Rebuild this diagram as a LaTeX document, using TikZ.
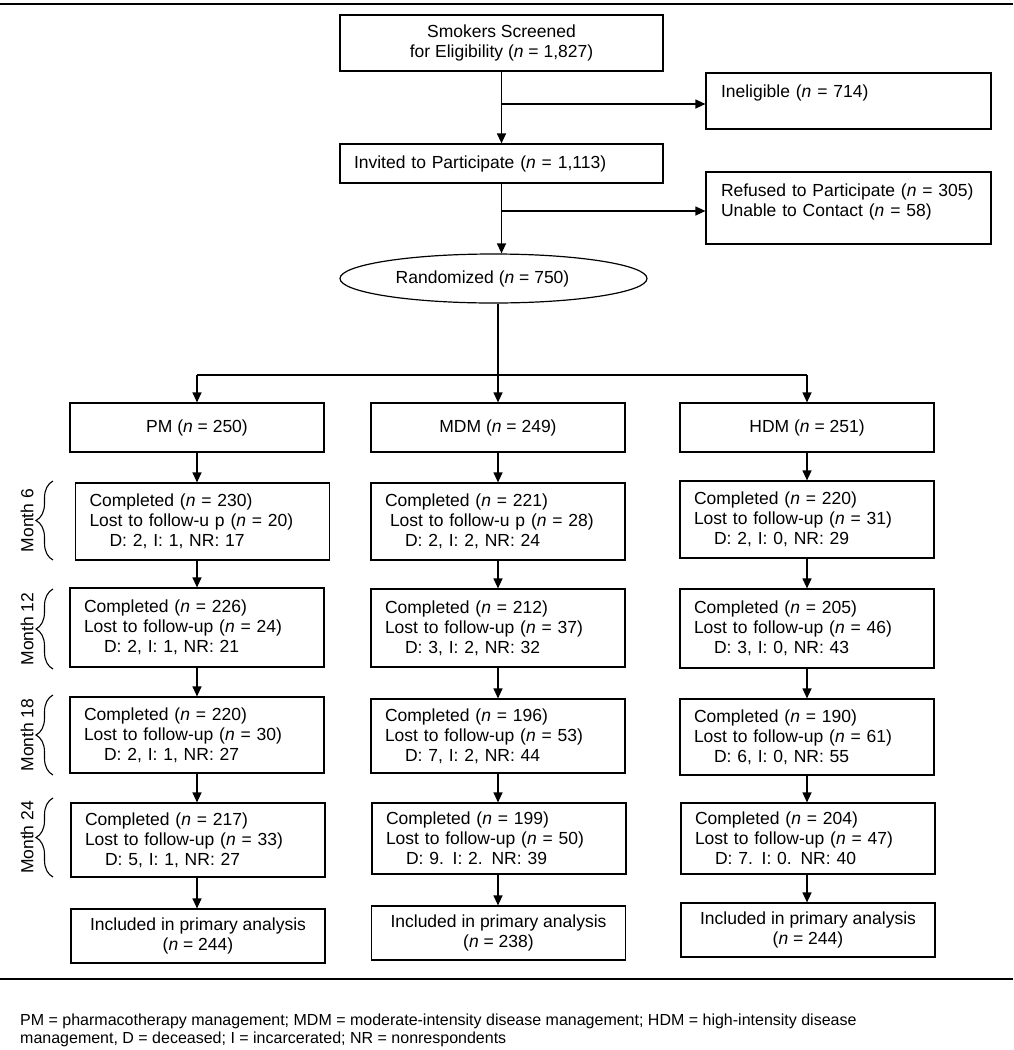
\documentclass[tikz,border=0pt]{standalone}
\usepackage{fontspec}
\setmainfont{Liberation Sans}
\usetikzlibrary{positioning,arrows.meta,shapes.geometric,decorations.pathreplacing}

\begin{document}
\begin{tikzpicture}[x=1pt,y=-1pt,
    font=\fontsize{17.5}{20}\selectfont,
    box/.style={draw, line width=1.2pt, inner sep=0pt},
    stage/.style={box, text width=226pt, inner xsep=14pt, align=left, minimum height=#1},
    arm/.style={box, minimum width=254pt, minimum height=#1, align=center},
    arr/.style={-{Triangle[length=10pt,width=9pt]}, line width=1.2pt},
    curly/.style={decorate, decoration={brace, amplitude=17pt}, line width=1.1pt}]
  \useasboundingbox (0,0) rectangle (1013,1050);
  \fill[white] (0,0) rectangle (1013,1050);

  \draw[line width=2.4pt] (0,4) -- (1013,4);

  % enrolment
  \node[box, minimum width=323pt, minimum height=56pt, align=center] (screen) at (501.5,43)
    {Smokers Screened\\for Eligibility (\textit{n} = 1,827)};
  \node[box, text width=255pt, inner xsep=15pt, align=left, minimum height=56pt] (inel) at (848.5,101)
    {Ineligible (\textit{n} = 714)\\\mbox{}};
  \node[box, text width=295pt, inner xsep=14pt, align=left, minimum height=39pt] (invite) at (501.5,163.5)
    {Invited to Participate (\textit{n} = 1,113)};
  \node[box, text width=255pt, inner xsep=15pt, align=left, minimum height=72pt] (refuse) at (848.5,208)
    {Refused to Participate (\textit{n} = 305)\\Unable to Contact (\textit{n} = 58)\\[-5pt]\mbox{}};
  \node[draw, ellipse, line width=1.2pt, inner sep=0pt, minimum width=307pt, minimum height=49pt] (rand) at (493.5,278.5)
    {Randomized (\textit{n} = 750)\hspace*{22pt}};

  \coordinate (inelbranch) at (500,104);
  \coordinate (refbranch) at (500,211);
  \draw[arr] (screen) -- (invite);
  \draw[arr] (inelbranch -| screen.south) -- (inelbranch -| inel.west);
  \draw[arr] (invite.south) -- (invite.south |- rand.north);
  \draw[arr] (refbranch -| invite.south) -- (refbranch -| refuse.west);

  % arms
  \node[arm=49pt] (pm) at (197,427.5) {PM (\textit{n} = 250)};
  \node[arm=49pt] (mdm) at (498,427.5) {MDM (\textit{n} = 249)};
  \node[arm=49pt] (hdm) at (807,427.5) {HDM (\textit{n} = 251)};

  \coordinate (fork) at (498,375);
  \draw[arr] (rand.south -| mdm.north) -- (mdm.north);
  \draw[line width=1.2pt] (pm.north |- fork) -- (hdm.north |- fork);
  \foreach \c in {pm,hdm}
    \draw[arr] (\c.north |- fork) -- (\c.north);

  % PM column
  \node[stage=77pt] (pm6) at (202.5,521.5)
    {Completed (\textit{n} = 230)\\Lost to follow-u p (\textit{n} = 20)\\\hspace*{20pt}D: 2, I: 1, NR: 17};
  \node[stage=79pt] (pm12) at (197,627.5)
    {Completed (\textit{n} = 226)\\Lost to follow-up (\textit{n} = 24)\\\hspace*{20pt}D: 2, I: 1, NR: 21};
  \node[stage=76pt] (pm18) at (197,735)
    {Completed (\textit{n} = 220)\\Lost to follow-up (\textit{n} = 30)\\\hspace*{20pt}D: 2, I: 1, NR: 27};
  \node[stage=74pt] (pm24) at (198,840)
    {Completed (\textit{n} = 217)\\Lost to follow-up (\textit{n} = 33)\\\hspace*{20pt}D: 5, I: 1, NR: 27};
  \node[arm=54pt] (pmin) at (198,936)
    {Included in primary analysis\\(\textit{n} = 244)};

  % MDM column
  \node[stage=77pt] (mdm6) at (498,521.5)
    {Completed (\textit{n} = 221)\\\hspace*{5pt}Lost to follow-u p (\textit{n} = 28)\\\hspace*{20pt}D: 2, I: 2, NR: 24};
  \node[stage=78pt] (mdm12) at (498,628)
    {Completed (\textit{n} = 212)\\Lost to follow-up (\textit{n} = 37)\\\hspace*{20pt}D: 3, I: 2, NR: 32};
  \node[stage=74pt] (mdm18) at (498,736)
    {Completed (\textit{n} = 196)\\Lost to follow-up (\textit{n} = 53)\\\hspace*{20pt}D: 7, I: 2, NR: 44};
  \node[stage=71pt] (mdm24) at (499,838.5)
    {Completed (\textit{n} = 199)\\Lost to follow-up (\textit{n} = 50)\\\hspace*{20pt}D: 9. I: 2. NR: 39};
  \node[arm=54pt] (mdmin) at (498.5,933)
    {Included in primary analysis\\(\textit{n} = 238)};

  % HDM column
  \node[stage=77pt] (hdm6) at (807,519.5)
    {Completed (\textit{n} = 220)\\Lost to follow-up (\textit{n} = 31)\\\hspace*{20pt}D: 2, I: 0, NR: 29};
  \node[stage=79pt] (hdm12) at (807,628.5)
    {Completed (\textit{n} = 205)\\Lost to follow-up (\textit{n} = 46)\\\hspace*{20pt}D: 3, I: 0, NR: 43};
  \node[stage=76pt] (hdm18) at (807,737)
    {Completed (\textit{n} = 190)\\Lost to follow-up (\textit{n} = 61)\\\hspace*{20pt}D: 6, I: 0, NR: 55};
  \node[stage=71pt] (hdm24) at (808,838.5)
    {Completed (\textit{n} = 204)\\Lost to follow-up (\textit{n} = 47)\\\hspace*{20pt}D: 7. I: 0. NR: 40};
  \node[arm=54pt] (hdmin) at (808,930)
    {Included in primary analysis\\(\textit{n} = 244)};

  \foreach \c in {pm,mdm,hdm}
    \foreach \a/\b in {/6,6/12,12/18,18/24,24/in}
      \draw[arr] (\c.south |- \c\a.south) -- (\c.south |- \c\b.north);

  % follow-up months
  \foreach \m/\t/\b in {6/481/560,12/589/669,18/695/775,24/798/877} {
    \draw[curly] (53,\b) -- (53,\t);
    \node[rotate=90, font=\fontsize{17.5}{20}\selectfont] (month\m) at (27,{(\t+\b)/2}) {Month \m};
  }

  \draw[line width=1.5pt] (0,979) -- (1013,979);

  \node[anchor=base west, align=left, inner sep=0pt, font=\fontsize{16}{18}\selectfont] (note) at (20,1043)
    {PM = pharmacotherapy management; MDM = moderate-intensity disease management; HDM = high-intensity disease\\
     management, D = deceased; I = incarcerated; NR = nonrespondents};
\end{tikzpicture}
\end{document}
